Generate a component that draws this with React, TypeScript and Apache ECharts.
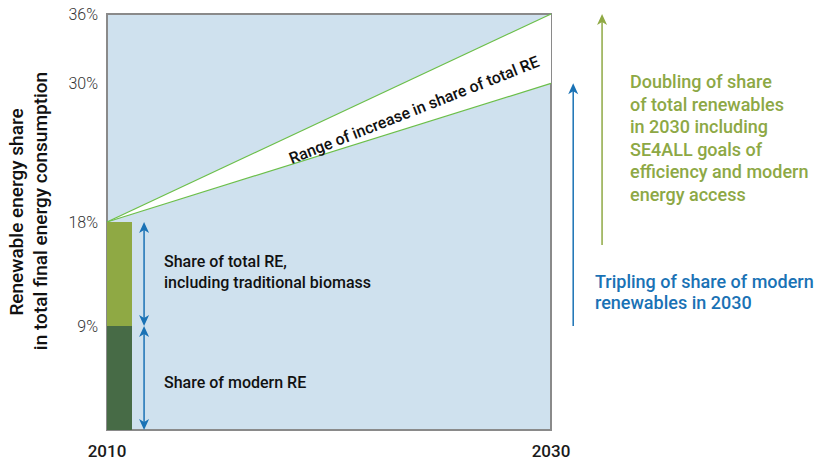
import React, { useEffect, useRef } from "react";
import * as echarts from "echarts";

const years = [2010, 2030];
const modernShare2010 = 9;
const totalShare2010 = 18;
const lowerTarget2030 = 30;
const upperTarget2030 = 36;
const yTickLabels = [9, 18, 30, 36];
const xTickLabels = [2010, 2030];

// bars: [x, from, to, colorKey]
const bars = [
  [2010, 0, modernShare2010, 0],
  [2010, modernShare2010, totalShare2010, 1],
];
// arrows: [x, from, to, twoHeads(1/0), colorKey]
const arrows = [
  [2011.67, modernShare2010, totalShare2010, 1, 0],
  [2011.67, 0, modernShare2010, 1, 0],
  [2031.0, 9, 30, 0, 0],
  [2032.3, 16, 36, 0, 1],
];
const wedge = [[years[0], totalShare2010, years[1], lowerTarget2030, upperTarget2030]];

const BLUE = "#1a72b5";
const GREEN_TXT = "#8da845";
const barColors = ["#476b46", "#8fa944"];
const arrowColors = [BLUE, "#8fa944"];
const FONT = "Roboto, 'Noto Sans', sans-serif";

export default function App() {
  const ref = useRef<HTMLDivElement>(null);
  useEffect(() => {
    const chart = echarts.init(ref.current!, undefined, { renderer: "svg" });
    const option: any = {
      animation: false,
      grid: {
        left: 107,
        right: 271,
        top: 14,
        bottom: 30,
        show: true,
        backgroundColor: "#cfe1ee",
        borderColor: "#8a8a8a",
        borderWidth: 2,
      },
      xAxis: {
        type: "value",
        min: 2010,
        max: 2030,
        interval: 10,
        axisLine: { show: false },
        axisTick: { show: false },
        splitLine: { show: false },
        axisLabel: {
          margin: 12,
          fontSize: 17,
          fontWeight: 500,
          color: "#1a1a1a",
          fontFamily: FONT,
          formatter: (v: number) => (xTickLabels.includes(v) ? String(v) : ""),
        },
      },
      yAxis: {
        type: "value",
        min: 0,
        max: 36,
        interval: 3,
        axisLine: { show: false },
        axisTick: { show: false },
        splitLine: { show: false },
        axisLabel: {
          margin: 9,
          fontSize: 16,
          fontWeight: 300,
          color: "#333",
          fontFamily: FONT,
          formatter: (v: number) => (yTickLabels.includes(v) ? v + "%" : ""),
        },
      },
      series: [
        {
          type: "custom",
          clip: false,
          data: wedge,
          renderItem: (params: any, api: any) => {
            const a = api.coord([api.value(0), api.value(1)]);
            const b = api.coord([api.value(2), api.value(3)]);
            const c = api.coord([api.value(2), api.value(4)]);
            return {
              type: "group",
              children: [
                { type: "polygon", shape: { points: [a, c, b] }, style: { fill: "#ffffff" } },
                { type: "line", shape: { x1: a[0], y1: a[1], x2: b[0], y2: b[1] }, style: { stroke: "#6cbf4a", lineWidth: 1.2 } },
                { type: "line", shape: { x1: a[0], y1: a[1], x2: c[0], y2: c[1] }, style: { stroke: "#6cbf4a", lineWidth: 1.2 } },
              ],
            };
          },
        },
        {
          type: "custom",
          clip: false,
          data: bars,
          renderItem: (params: any, api: any) => {
            const p0 = api.coord([api.value(0), api.value(1)]);
            const p1 = api.coord([api.value(0), api.value(2)]);
            return {
              type: "rect",
              shape: { x: p0[0], y: p1[1], width: 25, height: p0[1] - p1[1] },
              style: { fill: barColors[api.value(3)] },
            };
          },
        },
        {
          type: "custom",
          clip: false,
          data: arrows,
          renderItem: (params: any, api: any) => {
            const bot = api.coord([api.value(0), api.value(1)]);
            const top = api.coord([api.value(0), api.value(2)]);
            const two = api.value(3) === 1;
            const col = arrowColors[api.value(4)];
            const x = bot[0];
            const hl = 11, hw = 5;
            const children: any[] = [
              { type: "line", shape: { x1: x, y1: bot[1] - (two ? 2 : 0), x2: x, y2: top[1] + 4 }, style: { stroke: col, lineWidth: 1.5 } },
              { type: "polygon", shape: { points: [[x, top[1]], [x - hw, top[1] + hl], [x, top[1] + hl - 3], [x + hw, top[1] + hl]] }, style: { fill: col } },
            ];
            if (two) {
              children.push({ type: "polygon", shape: { points: [[x, bot[1]], [x - hw, bot[1] - hl], [x, bot[1] - hl + 3], [x + hw, bot[1] - hl]] }, style: { fill: col } });
            }
            return { type: "group", children };
          },
        },
      ],
      graphic: [
        {
          type: "text",
          z: 100,
          x: 16,
          y: 212,
          rotation: Math.PI / 2,
          style: { text: "Renewable energy share", align: "center", verticalAlign: "middle", fontSize: 19, fontWeight: 500, fontFamily: FONT, fill: "#111" },
        },
        {
          type: "text",
          z: 100,
          x: 40,
          y: 211,
          rotation: Math.PI / 2,
          style: { text: "in total final energy consumption", align: "center", verticalAlign: "middle", fontSize: 19, fontWeight: 500, fontFamily: FONT, fill: "#111" },
        },
        {
          type: "text",
          z: 100,
          x: 414,
          y: 110,
          rotation: (21.5 * Math.PI) / 180,
          style: { text: "Range of increase in share of total RE", align: "center", verticalAlign: "middle", fontSize: 16, fontWeight: 500, fontFamily: FONT, fill: "#111" },
        },
        {
          type: "text",
          z: 100,
          x: 164,
          y: 272,
          style: { text: "Share of total RE,\nincluding traditional biomass", align: "left", verticalAlign: "middle", fontSize: 16, fontWeight: 500, lineHeight: 21, fontFamily: FONT, fill: "#111" },
        },
        {
          type: "text",
          z: 100,
          x: 164,
          y: 382,
          style: { text: "Share of modern RE", align: "left", verticalAlign: "middle", fontSize: 16, fontWeight: 500, fontFamily: FONT, fill: "#111" },
        },
        {
          type: "text",
          z: 100,
          x: 630,
          y: 138,
          style: {
            text: "Doubling of share\nof total renewables\nin 2030 including\nSE4ALL goals of\nefficiency and modern\nenergy access",
            align: "left",
            verticalAlign: "middle",
            fontSize: 18,
            fontWeight: 500,
            lineHeight: 22.5,
            fontFamily: FONT,
            fill: GREEN_TXT,
          },
        },
        {
          type: "text",
          z: 100,
          x: 595,
          y: 292,
          style: {
            text: "Tripling of share of modern\nrenewables in 2030",
            align: "left",
            verticalAlign: "middle",
            fontSize: 18,
            fontWeight: 500,
            lineHeight: 21,
            fontFamily: FONT,
            fill: BLUE,
          },
        },
      ],
    };
    chart.setOption(option);
    return () => chart.dispose();
  }, []);
  return <div ref={ref} style={{ width: 822, height: 460, position: "absolute", left: 0, top: 0 }} />;
}
